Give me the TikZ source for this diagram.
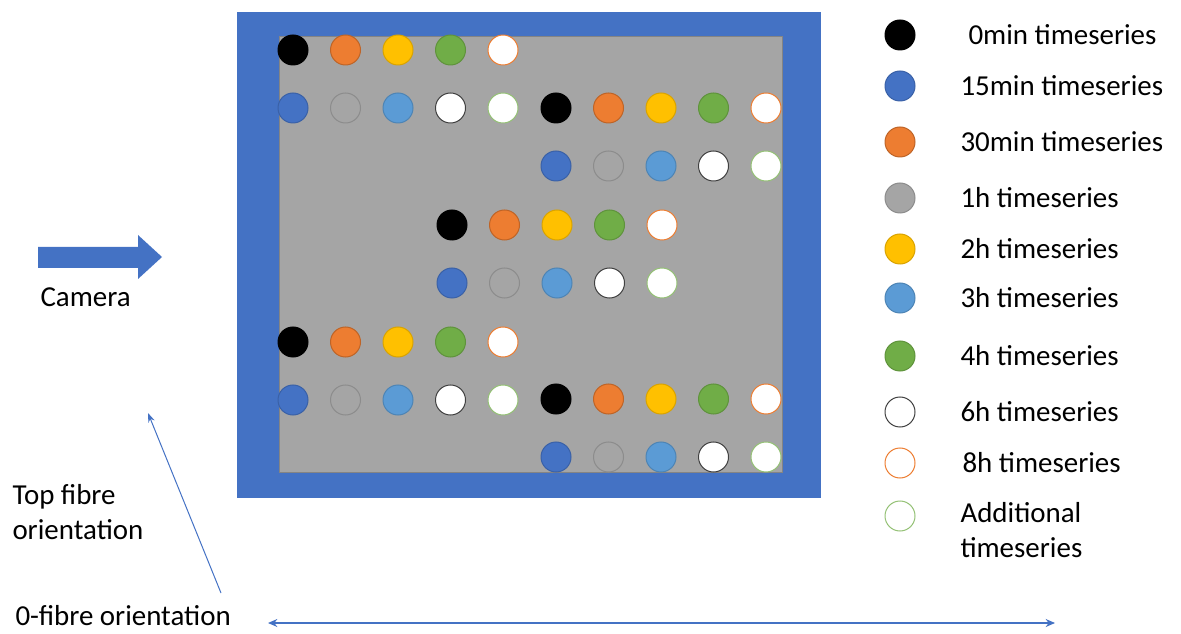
\documentclass[tikz,border=0pt]{standalone}
\usepackage{fontspec}
\setmainfont{Carlito}
\usepackage{tikz}
\usetikzlibrary{arrows.meta}
\definecolor{ofblue}{HTML}{4472C4}
\definecolor{ofgray}{HTML}{A5A5A5}
\definecolor{oforange}{HTML}{ED7D31}
\definecolor{ofyellow}{HTML}{FFC000}
\definecolor{ofgreen}{HTML}{70AD47}
\definecolor{oflblue}{HTML}{5B9BD5}

\begin{document}
\begin{tikzpicture}[x=0.75pt, y=-0.75pt, line width=0.75pt,
    dot/.style={circle, minimum size=22.5pt, inner sep=0pt, line width=0.75pt},
    lab/.style={anchor=west, inner sep=0pt, align=left,
                font=\fontsize{21.7}{26.3}\selectfont}]
  \useasboundingbox (0,0) rectangle (1181,634);
  % the plate: blue frame, grey specimen
  \fill[ofblue] (237,12) rectangle (821,498);
  \draw[ofgray!80!black, fill=ofgray] (279,37) rectangle (782,472);
  % the samples, five groups of two rows
  \foreach \g/\cx/\cy in {tl/293/50, tr/556/108, mid/452/225, bl/293/342, br/556/399}{
    \foreach \i/\f/\d in {0/black/black, 1/oforange/oforange!80!black,
                          2/ofyellow/ofyellow!85!black, 3/ofgreen/ofgreen!85!black,
                          4/white/oforange}{
      \node[dot, fill=\f, draw=\d] (\g-a\i) at ({\cx+\i*52.5},\cy) {};}
    \foreach \i/\f/\d in {0/ofblue/ofblue!85!black, 1/ofgray/ofgray!85!black,
                          2/oflblue/oflblue!85!black, 3/white/black!75,
                          4/white/ofgreen!75}{
      \node[dot, fill=\f, draw=\d] (\g-b\i) at ({\cx+\i*52.5},\cy+58) {};}
  }
  % legend
  \foreach \k/\y/\x/\f/\d/\t in {0/35/968/black/black/0min timeseries,
      15/86/960/ofblue/ofblue!85!black/15min timeseries,
      30/142/960/oforange/oforange!80!black/30min timeseries,
      1h/198/960/ofgray/ofgray!85!black/1h timeseries,
      2h/249/960/ofyellow/ofyellow!85!black/2h timeseries,
      3h/298/960/oflblue/oflblue!85!black/3h timeseries,
      4h/356/960/ofgreen/ofgreen!85!black/4h timeseries,
      6h/412/960/white/black!75/6h timeseries,
      8h/463/962/white/oforange/8h timeseries}{
    \node[dot, fill=\f, draw=\d] (leg\k) at (900,\y) {};
    \node[lab] (lab\k) at (\x,\y) {\t};}
  \node[dot, fill=white, draw=ofgreen!75] (legadd) at (900,516) {};
  \node[lab, anchor=north west] (labadd) at (960,502) {Additional\\timeseries};
  % camera
  \fill[ofblue] (38,247) -- (138,247) -- (138,235) -- (162,257) -- (138,279)
    -- (138,268) -- (38,268) -- cycle;
  \node[lab] (camera) at (40,297) {Camera};
  % fibre orientations
  \coordinate (toptail) at (221,593);
  \coordinate (toptip) at (148,413);
  \draw[ofblue, -{Stealth[length=7pt, width=5pt]}] (toptail) -- (toptip);
  \node[lab] (toplab) at (12,512) {Top fibre\\orientation};
  \coordinate (zeroleft) at (268,623);
  \coordinate (zeroright) at (1055,623);
  \draw[ofblue, line width=1.1pt, {Stealth[length=7pt, width=6pt]}-{Stealth[length=7pt, width=6pt]}]
    (zeroleft) -- (zeroright);
  \node[lab] (zerolab) at (15,616) {0-fibre orientation};
\end{tikzpicture}
\end{document}
